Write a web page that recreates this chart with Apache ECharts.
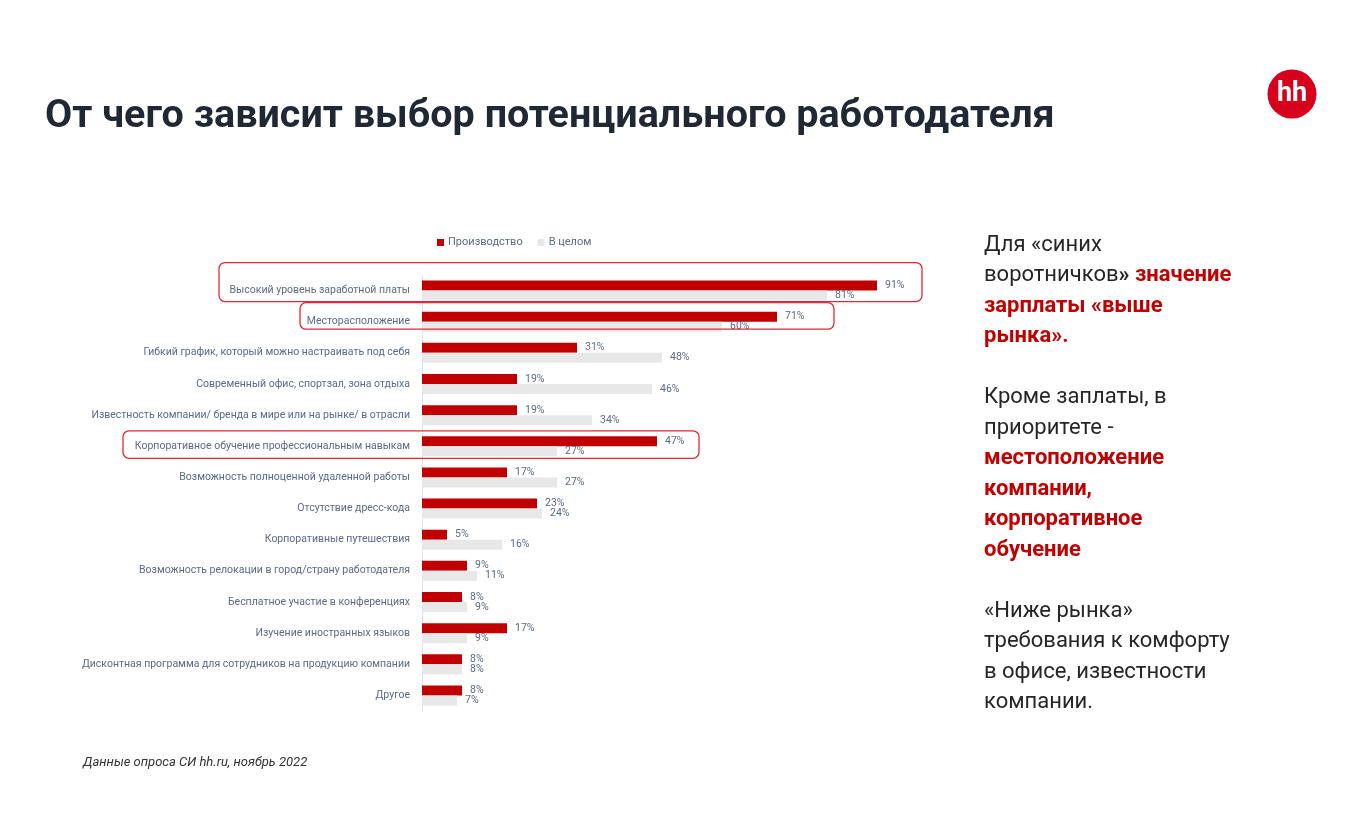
<!DOCTYPE html>
<html>
<head>
<meta charset="utf-8">
<script src="https://cdn.jsdelivr.net/npm/echarts@6/dist/echarts.min.js"></script>
<style>
  html, body { margin: 0; padding: 0; background: #fff; }
  #main { width: 1360px; height: 839px; }
</style>
</head>
<body>
<div id="main"></div>
<script>
// факторы выбора работодателя
const categories = [
  "Высокий уровень заработной платы",
  "Месторасположение",
  "Гибкий график, который можно настраивать под себя",
  "Современный офис, спортзал, зона отдыха",
  "Известность компании/ бренда в мире или на рынке/ в отрасли",
  "Корпоративное обучение профессиональным навыкам",
  "Возможность полноценной удаленной работы",
  "Отсутствие дресс-кода",
  "Корпоративные путешествия",
  "Возможность релокации в город/страну работодателя",
  "Бесплатное участие в конференциях",
  "Изучение иностранных языков",
  "Дисконтная программа для сотрудников на продукцию компании",
  "Другое"
];
const production = [91, 71, 31, 19, 19, 47, 17, 23, 5, 9, 8, 17, 8, 8];
const overall = [81, 60, 48, 46, 34, 27, 27, 24, 16, 11, 9, 9, 8, 7];
const seriesNames = ["Производство", "В целом"];

// выделенные строки: индекс, отступ сверху/снизу от центра, левый и правый край рамки
const highlights = [
  { idx: 0, up: 28, down: 11, left: 219, right: 922 },
  { idx: 1, up: 19, down: 7.5, left: 300, right: 834 },
  { idx: 5, up: 15.5, down: 12, left: 123, right: 699 }
];

const RED = "#c00000";
const GREY = "#e8e8e8";
const LABEL = "#5b6a85";

const chart = echarts.init(document.getElementById("main"));

const valueLabel = {
  show: true,
  position: "right",
  distance: 8,
  formatter: "{c}%",
  color: LABEL,
  fontSize: 10.5,
  fontFamily: "Roboto"
};

chart.setOption({
  animation: false,
  backgroundColor: "#fff",
  title: [
    {
      text: "От чего зависит выбор потенциального работодателя",
      left: 45,
      top: 94,
      padding: 0,
      textStyle: {
        fontFamily: "Roboto",
        fontWeight: "bold",
        fontSize: 39.5,
        lineHeight: 46,
        color: "#1f2833"
      }
    },
    {
      text: "Данные опроса СИ hh.ru, ноябрь 2022",
      left: 83,
      top: 754,
      padding: 0,
      textStyle: {
        fontFamily: "Roboto",
        fontStyle: "italic",
        fontWeight: "normal",
        fontSize: 13,
        lineHeight: 18,
        color: "#333"
      }
    },
    {
      text: [
        "Для «синих",
        "воротничков{d|»} {r|значение}",
        "{r|зарплаты «выше}",
        "{r|рынка».}",
        "",
        "Кроме заплаты, в",
        "приоритете -",
        "{r|местоположение}",
        "{r|компании,}",
        "{r|корпоративное}",
        "{r|обучение}",
        "",
        "«Ниже рынка»",
        "требования к комфорту",
        "в офисе, известности",
        "компании."
      ].join("\n"),
      left: 984,
      top: 230,
      padding: 0,
      textStyle: {
        fontFamily: "Roboto",
        fontWeight: "normal",
        fontSize: 22,
        lineHeight: 30.5,
        color: "#262626",
        rich: {
          r: { color: RED, fontWeight: "bold", fontSize: 22, lineHeight: 30.5, fontFamily: "Roboto" },
          d: { color: "#262626", fontWeight: "bold", fontSize: 22, lineHeight: 30.5, fontFamily: "Roboto" }
        }
      }
    }
  ],
  legend: {
    left: 437,
    top: 237,
    padding: 0,
    itemWidth: 7,
    itemHeight: 7,
    itemGap: 15,
    icon: "rect",
    data: seriesNames,
    textStyle: { color: LABEL, fontSize: 11, fontFamily: "Roboto", padding: [0, 0, 0, -1] }
  },
  grid: {
    left: 422,
    top: 275,
    width: 500,
    height: 436,
    containLabel: false
  },
  xAxis: {
    type: "value",
    min: 0,
    max: 100,
    show: false
  },
  yAxis: {
    type: "category",
    data: categories,
    inverse: true,
    axisLine: { show: true, lineStyle: { color: "#dfe4ea", width: 1 } },
    axisTick: { show: false },
    axisLabel: {
      margin: 12,
      color: LABEL,
      fontSize: 10.5,
      fontFamily: "Roboto"
    },
    splitLine: { show: false }
  },
  series: [
    {
      name: seriesNames[0],
      type: "bar",
      data: production,
      barWidth: 10,
      barGap: "0%",
      itemStyle: { color: RED },
      label: valueLabel
    },
    {
      name: seriesNames[1],
      type: "bar",
      data: overall,
      barWidth: 10,
      barGap: "0%",
      itemStyle: { color: GREY },
      label: valueLabel
    }
  ]
});

// рамки-выделения и логотип
const graphics = highlights.map(function (h) {
  const cy = chart.convertToPixel({ yAxisIndex: 0 }, categories[h.idx]);
  return {
    type: "rect",
    silent: true,
    z: 10,
    shape: { x: h.left, y: cy - h.up, width: h.right - h.left, height: h.up + h.down, r: 6 },
    style: { fill: "none", stroke: "#e0283c", lineWidth: 1.3 }
  };
});
graphics.push(
  {
    type: "circle",
    shape: { cx: 1292, cy: 94, r: 24.5 },
    style: { fill: "#d6001c" }
  },
  {
    type: "text",
    x: 1292,
    y: 94,
    z: 5,
    style: {
      text: "hh",
      fill: "#fff",
      font: "bold 27px Roboto",
      align: "center",
      verticalAlign: "middle"
    }
  }
);
chart.setOption({ graphic: graphics });
</script>
</body>
</html>
